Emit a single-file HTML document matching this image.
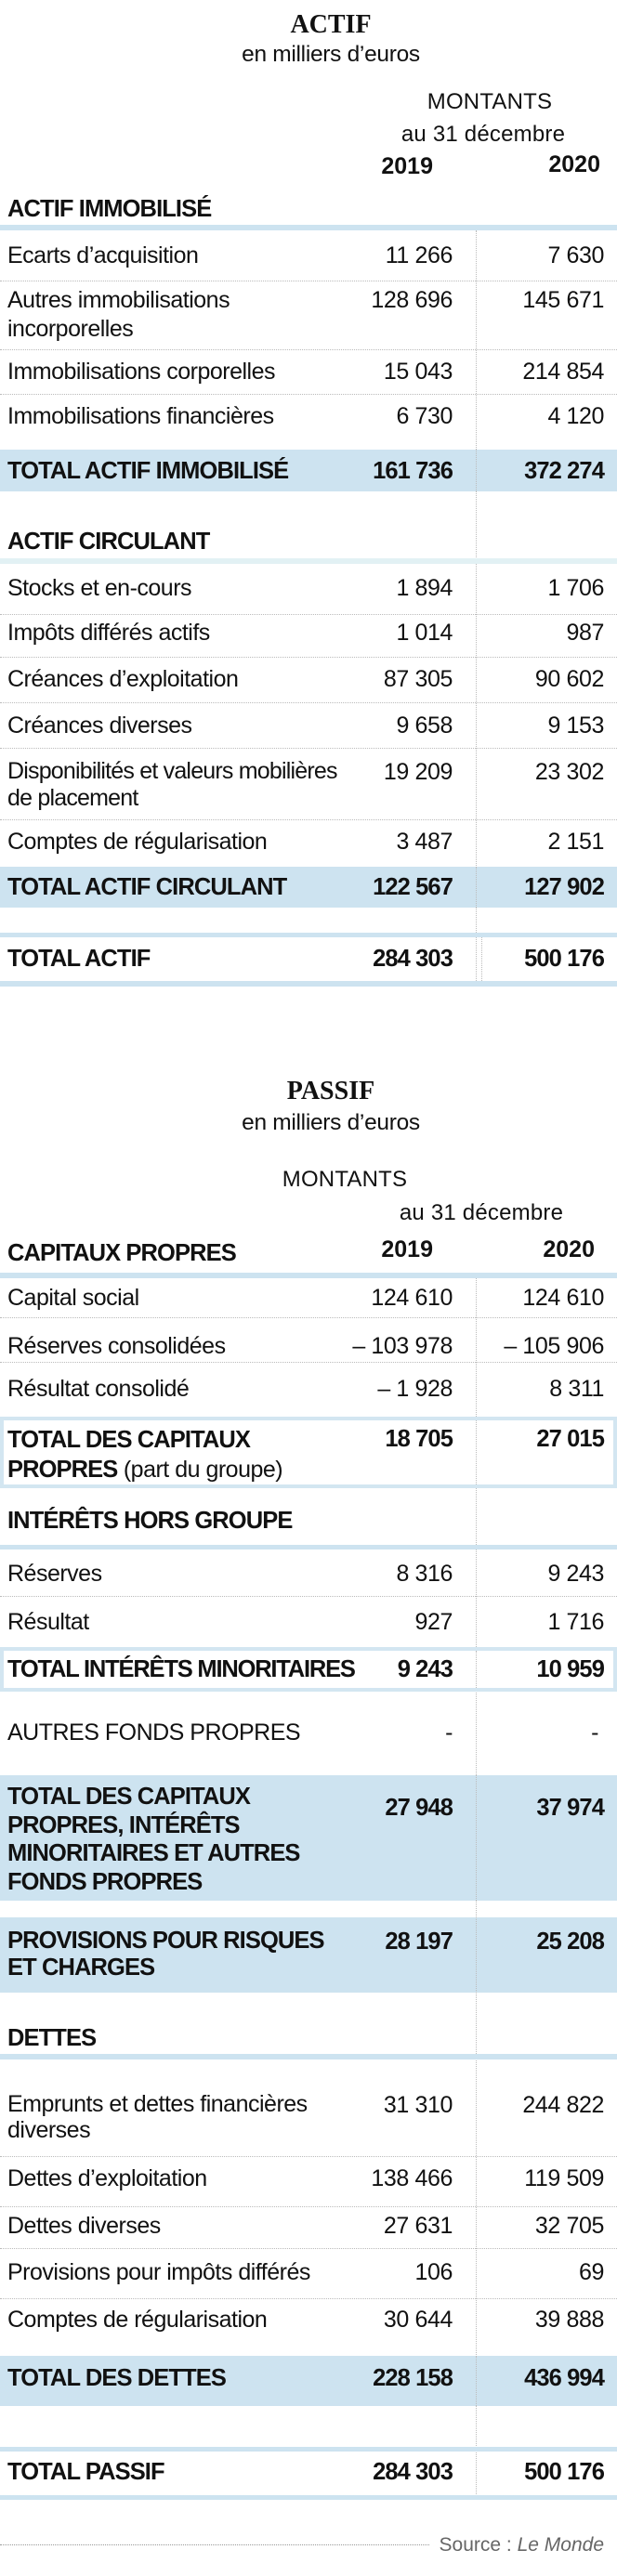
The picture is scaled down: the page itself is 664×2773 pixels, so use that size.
<!DOCTYPE html>
<html><head><meta charset="utf-8"><style>
*{margin:0;padding:0;box-sizing:border-box}
body{width:664px;height:2773px;position:relative;background:#fff;color:#111;font-family:"Liberation Sans",sans-serif;overflow:hidden}
div{position:absolute;white-space:nowrap;line-height:30px}
.t{left:8px;font-size:25px;letter-spacing:-0.5px}
.n1{right:177px;font-size:25px;text-align:right;letter-spacing:-0.4px}
.n2{right:14px;font-size:25px;text-align:right;letter-spacing:-0.4px}
.b{font-weight:bold;font-size:25.5px;letter-spacing:-0.9px}
.h{font-size:25.5px;font-weight:bold;letter-spacing:-0.9px;left:8px}
.ti{font-family:"Liberation Serif",serif;font-weight:bold;font-size:28px;text-align:center;width:300px;left:206px}
.sub{font-size:24.5px;text-align:center;width:300px;left:206px;letter-spacing:-0.3px}
.ct{font-size:24px;text-align:center;width:240px;letter-spacing:0.2px}
.yr{font-size:25px;font-weight:bold;text-align:right}
.bl{left:0;width:664px;background:#cde3f0}
.sep{left:0;width:664px;height:0;border-top:1.5px dotted #bbb}
.v{width:0;border-left:1.5px dotted #bbb}
.box{left:0;width:664px;border:4px solid #d3e6f1;background:#fff}
</style></head><body>
<!-- ACTIF header -->
<div class="ti" style="top:12px">ACTIF</div>
<div class="sub" style="top:44px">en milliers d’euros</div>
<div class="ct" style="left:407px;top:95px">MONTANTS</div>
<div class="ct" style="left:400px;top:130px">au 31 décembre</div>
<div class="yr" style="right:198px;top:164px">2019</div>
<div class="yr" style="right:18px;top:162px">2020</div>
<div class="h" style="top:210px">ACTIF IMMOBILISÉ</div>
<div class="bl" style="top:242px;height:6px"></div>
<div class="v" style="left:512px;top:248px;height:810px"></div>

<div class="t" style="top:260px">Ecarts d’acquisition</div><div class="n1" style="top:260px">11 266</div><div class="n2" style="top:260px">7 630</div>
<div class="sep" style="top:302px"></div>
<div class="t" style="top:308px;line-height:31px">Autres immobilisations<br>incorporelles</div><div class="n1" style="top:308px">128 696</div><div class="n2" style="top:308px">145 671</div>
<div class="sep" style="top:376px"></div>
<div class="t" style="top:385px">Immobilisations corporelles</div><div class="n1" style="top:385px">15 043</div><div class="n2" style="top:385px">214 854</div>
<div class="sep" style="top:424px"></div>
<div class="t" style="top:433px">Immobilisations financières</div><div class="n1" style="top:433px">6 730</div><div class="n2" style="top:433px">4 120</div>
<div class="bl" style="top:484px;height:45px"></div>
<div class="v" style="left:512px;top:484px;height:45px"></div>
<div class="t b" style="top:492px">TOTAL ACTIF IMMOBILISÉ</div><div class="n1 b" style="top:492px">161 736</div><div class="n2 b" style="top:492px">372 274</div>

<div class="h" style="top:568px">ACTIF CIRCULANT</div>
<div class="bl" style="top:601px;height:6px;background:#e2f1f4"></div>
<div class="t" style="top:618px">Stocks et en-cours</div><div class="n1" style="top:618px">1 894</div><div class="n2" style="top:618px">1 706</div>
<div class="sep" style="top:661px"></div>
<div class="t" style="top:666px">Impôts différés actifs</div><div class="n1" style="top:666px">1 014</div><div class="n2" style="top:666px">987</div>
<div class="sep" style="top:707px"></div>
<div class="t" style="top:716px">Créances d’exploitation</div><div class="n1" style="top:716px">87 305</div><div class="n2" style="top:716px">90 602</div>
<div class="sep" style="top:756px"></div>
<div class="t" style="top:766px">Créances diverses</div><div class="n1" style="top:766px">9 658</div><div class="n2" style="top:766px">9 153</div>
<div class="sep" style="top:805px"></div>
<div class="t" style="top:816px;line-height:29px;letter-spacing:-0.8px">Disponibilités et valeurs mobilières<br>de placement</div><div class="n1" style="top:816px">19 209</div><div class="n2" style="top:816px">23 302</div>
<div class="sep" style="top:882px"></div>
<div class="t" style="top:891px">Comptes de régularisation</div><div class="n1" style="top:891px">3 487</div><div class="n2" style="top:891px">2 151</div>
<div class="bl" style="top:933px;height:44px"></div>
<div class="v" style="left:512px;top:933px;height:44px"></div>
<div class="t b" style="top:940px">TOTAL ACTIF CIRCULANT</div><div class="n1 b" style="top:940px">122 567</div><div class="n2 b" style="top:940px">127 902</div>

<div class="bl" style="top:1004px;height:5px"></div>
<div class="v" style="left:518px;top:1009px;height:47px"></div>
<div class="t b" style="top:1017px">TOTAL ACTIF</div><div class="n1 b" style="top:1017px">284 303</div><div class="n2 b" style="top:1017px">500 176</div>
<div class="bl" style="top:1056px;height:6px"></div>

<!-- PASSIF -->
<div class="ti" style="top:1160px">PASSIF</div>
<div class="sub" style="top:1194px">en milliers d’euros</div>
<div class="ct" style="left:251px;top:1255px">MONTANTS</div>
<div class="ct" style="left:398px;top:1291px">au 31 décembre</div>
<div class="h" style="top:1334px">CAPITAUX PROPRES</div>
<div class="yr" style="right:198px;top:1330px">2019</div>
<div class="yr" style="right:24px;top:1330px">2020</div>
<div class="bl" style="top:1370px;height:6px"></div>
<div class="v" style="left:512px;top:1376px;height:1315px"></div>

<div class="t" style="top:1382px">Capital social</div><div class="n1" style="top:1382px">124 610</div><div class="n2" style="top:1382px">124 610</div>
<div class="sep" style="top:1418px"></div>
<div class="t" style="top:1434px">Réserves consolidées</div><div class="n1" style="top:1434px">–  103 978</div><div class="n2" style="top:1434px">–  105 906</div>
<div class="sep" style="top:1466px"></div>
<div class="t" style="top:1480px">Résultat consolidé</div><div class="n1" style="top:1480px">– 1 928</div><div class="n2" style="top:1480px">8 311</div>
<div class="box" style="top:1525px;height:77px"></div>
<div class="v" style="left:512px;top:1529px;height:69px"></div>
<div class="t" style="top:1534px;line-height:32px"><b style="letter-spacing:-0.9px;font-size:25.5px">TOTAL DES CAPITAUX<br>PROPRES</b> (part du groupe)</div>
<div class="n1 b" style="top:1534px">18 705</div><div class="n2 b" style="top:1534px">27 015</div>

<div class="h" style="top:1622px">INTÉRÊTS HORS GROUPE</div>
<div class="bl" style="top:1663px;height:5px"></div>
<div class="t" style="top:1679px">Réserves</div><div class="n1" style="top:1679px">8 316</div><div class="n2" style="top:1679px">9 243</div>
<div class="sep" style="top:1718px"></div>
<div class="t" style="top:1731px">Résultat</div><div class="n1" style="top:1731px">927</div><div class="n2" style="top:1731px">1 716</div>
<div class="box" style="top:1773px;height:48px"></div>
<div class="v" style="left:512px;top:1777px;height:40px"></div>
<div class="t b" style="top:1782px;letter-spacing:-1.2px">TOTAL INTÉRÊTS MINORITAIRES</div><div class="n1 b" style="top:1782px">9 243</div><div class="n2 b" style="top:1782px">10 959</div>

<div class="t" style="top:1850px">AUTRES FONDS PROPRES</div><div class="n1" style="top:1850px">-</div><div class="n2" style="top:1850px;right:20px">-</div>

<div class="bl" style="top:1911px;height:135px"></div>
<div class="v" style="left:512px;top:1911px;height:135px"></div>
<div class="t b" style="top:1919px;line-height:30.5px">TOTAL DES CAPITAUX<br>PROPRES, INTÉRÊTS<br>MINORITAIRES ET AUTRES<br>FONDS PROPRES</div>
<div class="n1 b" style="top:1931px">27 948</div><div class="n2 b" style="top:1931px">37 974</div>

<div class="bl" style="top:2064px;height:81px"></div>
<div class="v" style="left:512px;top:2064px;height:81px"></div>
<div class="t b" style="top:2075px;line-height:29px">PROVISIONS POUR RISQUES<br>ET CHARGES</div>
<div class="n1 b" style="top:2075px">28 197</div><div class="n2 b" style="top:2075px">25 208</div>

<div class="h" style="top:2179px">DETTES</div>
<div class="bl" style="top:2211px;height:6px"></div>
<div class="t" style="top:2251px;line-height:28px">Emprunts et dettes financières<br>diverses</div><div class="n1" style="top:2251px">31 310</div><div class="n2" style="top:2251px">244 822</div>
<div class="sep" style="top:2321px"></div>
<div class="t" style="top:2330px">Dettes d’exploitation</div><div class="n1" style="top:2330px">138 466</div><div class="n2" style="top:2330px">119 509</div>
<div class="sep" style="top:2375px"></div>
<div class="t" style="top:2381px">Dettes diverses</div><div class="n1" style="top:2381px">27 631</div><div class="n2" style="top:2381px">32 705</div>
<div class="sep" style="top:2420px"></div>
<div class="t" style="top:2431px">Provisions pour impôts différés</div><div class="n1" style="top:2431px">106</div><div class="n2" style="top:2431px">69</div>
<div class="sep" style="top:2474px"></div>
<div class="t" style="top:2482px">Comptes de régularisation</div><div class="n1" style="top:2482px">30 644</div><div class="n2" style="top:2482px">39 888</div>
<div class="bl" style="top:2536px;height:54px"></div>
<div class="v" style="left:512px;top:2536px;height:54px"></div>
<div class="t b" style="top:2545px">TOTAL DES DETTES</div><div class="n1 b" style="top:2545px">228 158</div><div class="n2 b" style="top:2545px">436 994</div>

<div class="bl" style="top:2634px;height:5px"></div>
<div class="t b" style="top:2646px">TOTAL PASSIF</div><div class="n1 b" style="top:2646px">284 303</div><div class="n2 b" style="top:2646px">500 176</div>
<div class="bl" style="top:2686px;height:5px"></div>

<div class="sep" style="top:2739px;width:462px;border-top-color:#999"></div>
<div style="right:14px;top:2725px;font-size:21px;color:#666">Source : <i>Le Monde</i></div>
</body></html>
